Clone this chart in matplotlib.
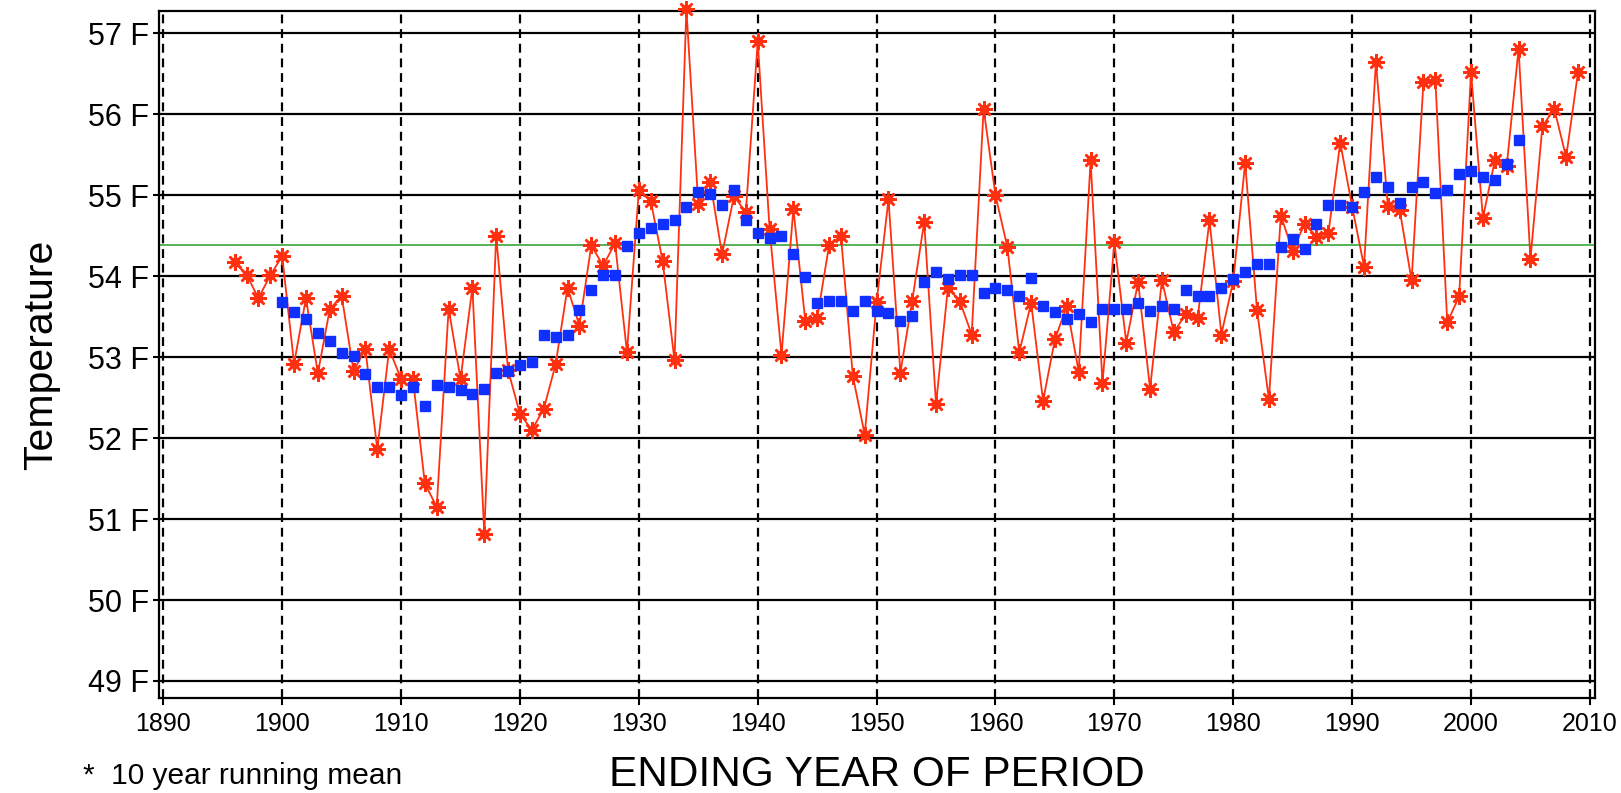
import numpy as np
import matplotlib
matplotlib.use("Agg")
import matplotlib.pyplot as plt

plt.rcParams['font.family'] = ['Liberation Sans', 'DejaVu Sans']

# Annual mean temperature (deg F), by ending year of period
annual_years = list(range(1896, 2010))
annual_temps = [
    54.17, 54.02, 53.73, 54.01, 54.25, 52.92, 53.73, 52.80, 53.59, 53.76,  # 1896-1905
    52.83, 53.10, 51.86, 53.10, 52.73, 52.73, 51.44, 51.15, 53.60, 52.73,  # 1906-1915
    53.86, 50.82, 54.50, 52.84, 52.30, 52.10, 52.36, 52.91, 53.86, 53.39,  # 1916-1925
    54.38, 54.13, 54.41, 53.06, 55.06, 54.93, 54.19, 52.96, 57.30, 54.89,  # 1926-1935
    55.17, 54.27, 54.99, 54.79, 56.90, 54.58, 53.03, 54.83, 53.45, 53.48,  # 1936-1945
    54.38, 54.50, 52.77, 52.04, 53.68, 54.95, 52.81, 53.70, 54.67, 52.42,  # 1946-1955
    53.86, 53.69, 53.28, 56.07, 55.00, 54.36, 53.06, 53.67, 52.46, 53.22,  # 1956-1965
    53.63, 52.82, 55.43, 52.68, 54.42, 53.18, 53.93, 52.61, 53.95, 53.31,  # 1966-1975
    53.53, 53.48, 54.69, 53.28, 53.94, 55.40, 53.58, 52.48, 54.75, 54.31,  # 1976-1985
    54.65, 54.49, 54.53, 55.65, 54.86, 54.12, 56.65, 54.87, 54.82, 53.95,  # 1986-1995
    56.40, 56.43, 53.43, 53.75, 56.52, 54.72, 55.43, 55.36, 56.81, 54.21,  # 1996-2005
    55.85, 56.07, 55.47, 56.52,                                            # 2006-2009
]

# 10 year running mean
mean_years = list(range(1900, 2005))
mean_temps = [
    53.68, 53.56, 53.47, 53.30, 53.20, 53.05, 53.02, 52.79, 52.63, 52.63,  # 1900-1909
    52.53, 52.63, 52.40, 52.66, 52.63, 52.60, 52.54, 52.61, 52.81, 52.83,  # 1910-1919
    52.90, 52.94, 53.28, 53.25, 53.28, 53.58, 53.83, 54.02, 54.02, 54.37,  # 1920-1929
    54.54, 54.60, 54.64, 54.69, 54.86, 55.04, 55.02, 54.88, 55.07, 54.70,  # 1930-1939
    54.54, 54.47, 54.50, 54.27, 53.99, 53.67, 53.70, 53.70, 53.57, 53.70,  # 1940-1949
    53.57, 53.55, 53.45, 53.51, 53.93, 54.05, 53.97, 54.01, 54.01, 53.79,  # 1950-1959
    53.85, 53.83, 53.76, 53.98, 53.63, 53.56, 53.47, 53.53, 53.44, 53.59,  # 1960-1969
    53.59, 53.59, 53.67, 53.57, 53.63, 53.60, 53.83, 53.76, 53.76, 53.86,  # 1970-1979
    53.96, 54.05, 54.15, 54.15, 54.36, 54.46, 54.34, 54.65, 54.88, 54.88,  # 1980-1989
    54.85, 55.04, 55.23, 55.10, 54.90, 55.10, 55.16, 55.03, 55.06, 55.26,  # 1990-1999
    55.30, 55.23, 55.19, 55.39, 55.68,                                     # 2000-2004
]

# Long-term average
overall_mean = 54.39

x_ticks = [1890, 1900, 1910, 1920, 1930, 1940, 1950, 1960, 1970, 1980, 1990, 2000, 2010]
y_ticks = [49, 50, 51, 52, 53, 54, 55, 56, 57]
y_tick_labels = ["49 F", "50 F", "51 F", "52 F", "53 F", "54 F", "55 F", "56 F", "57 F"]

RED = "#ff3010"
BLUE = "#1030ff"
GREEN = "#3aa53a"

fig = plt.figure(figsize=(16.21, 7.93), dpi=100)
ax = fig.add_axes([0.0981, 0.1198, 0.8858, 0.8667])

ax.set_xlim(1889.64, 2010.42)
ax.set_ylim(48.79, 57.28)

# Grid: solid horizontal lines, dashed vertical lines
for yv in y_ticks:
    ax.axhline(yv, color="black", lw=1.6, zorder=1)
for xv in x_ticks:
    ax.axvline(xv, color="black", lw=1.6, ls=(0, (4.0, 2.6)), zorder=1)

ax.axhline(overall_mean, color=GREEN, lw=1.2, zorder=2)

ax.plot(annual_years, annual_temps, color=RED, lw=1.3, zorder=3, clip_on=False)
ax.plot(annual_years, annual_temps, ls="none", marker=(8, 2, 0), ms=12,
        mew=1.8, mec=RED, zorder=4, clip_on=False)
ax.plot(annual_years, annual_temps, ls="none", marker="o", ms=6,
        mfc=RED, mec=RED, zorder=4, clip_on=False)

ax.plot(mean_years, mean_temps, ls="none", marker="s", ms=6.5,
        mfc=BLUE, mec=BLUE, zorder=5)

ax.set_xticks(x_ticks)
ax.set_xticklabels([str(v) for v in x_ticks], fontsize=18)
ax.set_yticks(y_ticks)
ax.set_yticklabels(y_tick_labels, fontsize=22)
ax.tick_params(axis="x", direction="out", length=5, width=1.5, pad=5, color="black")
ax.tick_params(axis="y", direction="out", length=4, width=1.5, pad=3, color="black")

for sp in ax.spines.values():
    sp.set_linewidth(1.6)
    sp.set_color("black")

ax.set_xlabel("ENDING YEAR OF PERIOD", fontsize=30.5, labelpad=14)
ax.set_ylabel("Temperature", fontsize=29.5, labelpad=20)

fig.text(83 / 1621, 0.004, "*  10 year running mean", fontsize=21.5,
         ha="left", va="bottom")

fig.savefig("out.png", dpi=100)
